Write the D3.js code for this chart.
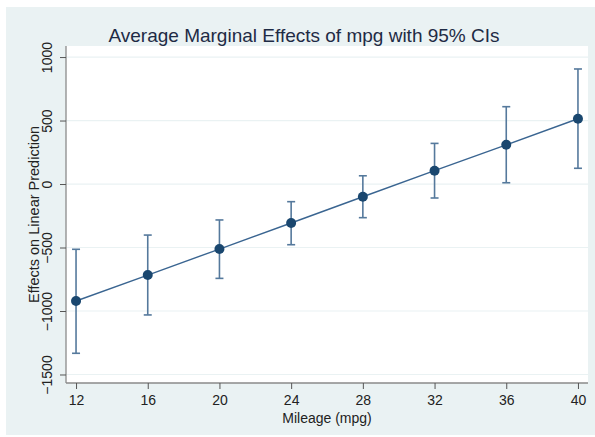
<!DOCTYPE html>
<html><head><meta charset="utf-8">
<script src="https://cdn.jsdelivr.net/npm/d3@7"></script>
<style>body{margin:0;background:#fff}svg{display:block}text{font-family:"Liberation Sans",Arial,sans-serif}</style>
</head><body>
<svg id="c" width="595" height="437"></svg>
<script>
const mpg = [12, 16, 20, 24, 28, 32, 36, 40];
const effect = [-921, -717, -512, -307, -100, 105, 309, 514];
const ciLow = [-1333, -1031, -743, -478, -265, -110, 10, 124];
const ciHigh = [-514, -402, -283, -139, 65, 320, 609, 906];
const yTicks = [-1500, -1000, -500, 0, 500, 1000];
const xTicks = [12, 16, 20, 24, 28, 32, 36, 40];

const svg = d3.select("#c");
svg.append("rect").attr("x", 6).attr("y", 7).attr("width", 589).attr("height", 428).attr("fill", "#eaf2f3");

const L = 66, R = 588, T = 46, B = 383;
svg.append("rect").attr("x", L).attr("y", T).attr("width", R - L).attr("height", B - T).attr("fill", "#fff");

const x = d3.scaleLinear().domain([11.44, 40.56]).range([L, R]);
const y = d3.scaleLinear().domain([-1567, 1087]).range([B, T]);

// gridlines
svg.append("g").selectAll("line").data(yTicks).join("line")
  .attr("x1", L).attr("x2", R).attr("y1", d => y(d)).attr("y2", d => y(d))
  .attr("stroke", "#eaf2f3").attr("stroke-width", 1.2);

// axes
const yAxis = svg.append("g").attr("transform", `translate(${L},0)`)
  .call(d3.axisLeft(y).tickValues(yTicks).tickSize(6).tickFormat(d3.format("d")));
yAxis.select(".domain").attr("d", `M0,${T}V${B}`).attr("stroke", "#8a8a8a").attr("stroke-width", 1.3);
yAxis.selectAll(".tick line").attr("stroke", "#555");
yAxis.selectAll(".tick text").attr("fill", "#222").attr("font-size", 14)
  .attr("transform", "translate(-19,0) rotate(-90)").attr("x", 0).attr("y", 0)
  .attr("dy", "0.35em").attr("text-anchor", "middle");

const xAxis = svg.append("g").attr("transform", `translate(0,${B})`)
  .call(d3.axisBottom(x).tickValues(xTicks).tickSize(6).tickPadding(6));
xAxis.select(".domain").attr("d", `M${L},0H${R}`).attr("stroke", "#8a8a8a").attr("stroke-width", 1.3);
xAxis.selectAll(".tick line").attr("stroke", "#555");
xAxis.selectAll(".tick text").attr("fill", "#222").attr("font-size", 14);

// CIs
const ci = svg.append("g").attr("stroke", "#55799c").attr("stroke-width", 1.6).attr("fill", "none");
mpg.forEach((m, i) => {
  ci.append("line").attr("x1", x(m)).attr("x2", x(m)).attr("y1", y(ciLow[i])).attr("y2", y(ciHigh[i]));
  ci.append("line").attr("x1", x(m) - 4).attr("x2", x(m) + 4).attr("y1", y(ciLow[i])).attr("y2", y(ciLow[i]));
  ci.append("line").attr("x1", x(m) - 4).attr("x2", x(m) + 4).attr("y1", y(ciHigh[i])).attr("y2", y(ciHigh[i]));
});

// line
svg.append("path").datum(mpg.map((m, i) => [m, effect[i]]))
  .attr("d", d3.line().x(d => x(d[0])).y(d => y(d[1])))
  .attr("fill", "none").attr("stroke", "#3a6591").attr("stroke-width", 1.4);

// markers
svg.append("g").selectAll("circle").data(mpg).join("circle")
  .attr("cx", d => x(d)).attr("cy", (d, i) => y(effect[i])).attr("r", 5)
  .attr("fill", "#1a476f");

// titles
svg.append("text").attr("x", 304).attr("y", 42).attr("text-anchor", "middle")
  .attr("font-size", 19).attr("fill", "#1e2b45").text("Average Marginal Effects of mpg with 95% CIs");
svg.append("text").attr("x", (L + R) / 2).attr("y", 423).attr("text-anchor", "middle")
  .attr("font-size", 14).attr("fill", "#222").text("Mileage (mpg)");
svg.append("text").attr("transform", `translate(39,${(T + B) / 2}) rotate(-90)`).attr("text-anchor", "middle")
  .attr("font-size", 14.5).attr("fill", "#222").text("Effects on Linear Prediction");
</script>
</body></html>
